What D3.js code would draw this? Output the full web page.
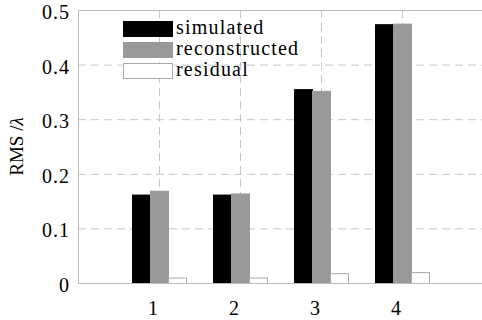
<!DOCTYPE html>
<html>
<head>
<meta charset="utf-8">
<script src="https://cdn.jsdelivr.net/npm/d3@7"></script>
<style>
  body { margin: 0; background: #fff; }
</style>
</head>
<body>
<div id="chart"></div>
<script>
const groups = [1, 2, 3, 4];
const seriesNames = ['simulated', 'reconstructed', 'residual'];
const simulated = [0.162, 0.162, 0.355, 0.474];
const reconstructed = [0.169, 0.164, 0.352, 0.475];
const residual = [0.010, 0.010, 0.018, 0.020];
const yTicks = [0, 0.1, 0.2, 0.3, 0.4, 0.5];

const fills = ['#000000', '#999999', '#ffffff'];
const strokes = ['#000000', '#999999', '#aaaaaa'];

const width = 482;
const height = 320;
const margin = { top: 10, right: -1, bottom: 37, left: 78 };
const serif = "'Liberation Serif', 'DejaVu Serif', serif";

const svg = d3.select('#chart')
    .append('svg')
    .attr('width', width)
    .attr('height', height)
    .attr('font-family', serif);

const x = d3.scaleLinear()
    .domain([0, 5])
    .range([margin.left, width - margin.right]);

const y = d3.scaleLinear()
    .domain([0, 0.5])
    .range([height - margin.bottom, margin.top]);

const sub = d3.scaleBand()
    .domain(seriesNames)
    .range([-(x(1) - x(0)) / 3, (x(1) - x(0)) / 3]);

const values = [simulated, reconstructed, residual];

// grid
svg.append('g')
    .selectAll('line')
    .data(yTicks.slice(1, -1))
    .join('line')
    .attr('x1', margin.left)
    .attr('x2', width)
    .attr('y1', d => y(d) + 0.5)
    .attr('y2', d => y(d) + 0.5)
    .attr('stroke', '#c8c8c8')
    .attr('stroke-dasharray', '8,5');

svg.append('g')
    .selectAll('line')
    .data(groups)
    .join('line')
    .attr('x1', d => x(d) + 0.5)
    .attr('x2', d => x(d) + 0.5)
    .attr('y1', y(0.5))
    .attr('y2', y(0))
    .attr('stroke', '#c8c8c8')
    .attr('stroke-dasharray', '8,5');

// bars
seriesNames.forEach((s, si) => {
    svg.append('g')
        .selectAll('rect')
        .data(groups)
        .join('rect')
        .attr('x', (d, i) => x(d) + sub(s) + 0.5)
        .attr('y', (d, i) => y(values[si][i]) + 0.5)
        .attr('width', sub.bandwidth())
        .attr('height', (d, i) => y(0) - y(values[si][i]))
        .attr('fill', fills[si])
        .attr('stroke', strokes[si]);
});

// axes frame
svg.append('line')
    .attr('x1', margin.left + 0.5).attr('x2', margin.left + 0.5)
    .attr('y1', y(0.5)).attr('y2', y(0) + 0.5)
    .attr('stroke', '#bbbbbb');
svg.append('line')
    .attr('x1', margin.left).attr('x2', width)
    .attr('y1', y(0) + 0.5).attr('y2', y(0) + 0.5)
    .attr('stroke', '#bbbbbb');
svg.append('line')
    .attr('x1', margin.left).attr('x2', width)
    .attr('y1', y(0.5) + 0.5).attr('y2', y(0.5) + 0.5)
    .attr('stroke', '#bbbbbb');

// tick labels
svg.append('g')
    .selectAll('text')
    .data(yTicks)
    .join('text')
    .attr('x', margin.left - 8)
    .attr('y', d => y(d) + 9)
    .attr('text-anchor', 'end')
    .attr('font-size', 20)
    .attr('letter-spacing', 1)
    .text(d => d === 0 ? '0' : d3.format('.1f')(d));

svg.append('g')
    .selectAll('text')
    .data(groups)
    .join('text')
    .attr('x', d => x(d) - 6)
    .attr('y', y(0) + 32)
    .attr('text-anchor', 'middle')
    .attr('font-size', 20)
    .text(d => d);

// y label
const yl = svg.append('text')
    .attr('transform', `translate(23, ${(y(0) + y(0.5)) / 2}) rotate(-90)`)
    .attr('text-anchor', 'middle')
    .attr('font-size', 19);
yl.append('tspan').text('RMS /');
yl.append('tspan').attr('font-style', 'italic').text('λ');

// legend
const legend = svg.append('g').attr('transform', 'translate(123, 21)');
seriesNames.forEach((s, i) => {
    legend.append('rect')
        .attr('x', 0.5)
        .attr('y', i * 21 + 0.5)
        .attr('width', 49)
        .attr('height', 15)
        .attr('fill', fills[i])
        .attr('stroke', strokes[i]);
    legend.append('text')
        .attr('x', 53)
        .attr('y', i * 21 + 13)
        .attr('font-size', 20)
        .attr('letter-spacing', 1.2)
        .text(s);
});
</script>
</body>
</html>
